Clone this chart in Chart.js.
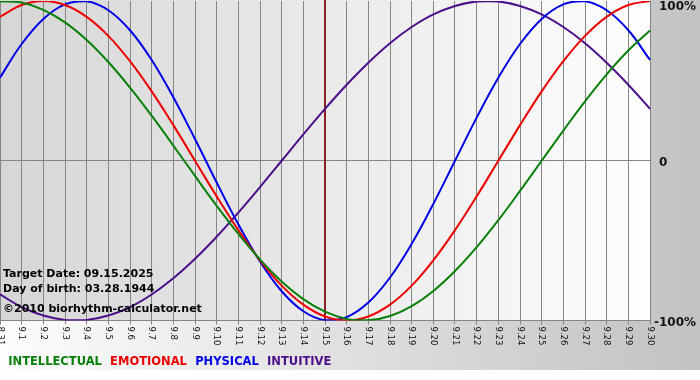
<!DOCTYPE html>
<html lang="en">
<head>
<meta charset="UTF-8">
<title>Biorhythm</title>
<style>
  body { margin: 0; background: #fff; }
  #wrap { width: 700px; height: 380px; }
</style>
</head>
<body>
<div id="wrap">
  <canvas id="myChart" width="700" height="380"></canvas>
</div>

<script src="https://cdn.jsdelivr.net/npm/chart.js"></script>
<script>
// days shown on the x axis
const days = ['8.31', '9.1', '9.2', '9.3', '9.4', '9.5', '9.6', '9.7', '9.8', '9.9', '9.10',
  '9.11', '9.12', '9.13', '9.14', '9.15', '9.16', '9.17', '9.18', '9.19', '9.20',
  '9.21', '9.22', '9.23', '9.24', '9.25', '9.26', '9.27', '9.28', '9.29', '9.30'];

// cycle values (-1 .. 1)
const intellectual = [0.999, 0.990, 0.945, 0.866, 0.756, 0.618, 0.458, 0.282, 0.095, -0.095, -0.282,
  -0.458, -0.618, -0.756, -0.866, -0.945, -0.990, -0.999, -0.972, -0.910, -0.815,
  -0.690, -0.541, -0.372, -0.189, 0.000, 0.189, 0.372, 0.541, 0.690, 0.815];
const emotional = [0.901, 0.975, 1.000, 0.975, 0.901, 0.782, 0.623, 0.434, 0.223, 0.000, -0.223,
  -0.434, -0.623, -0.782, -0.901, -0.975, -1.000, -0.975, -0.901, -0.782, -0.623,
  -0.434, -0.223, 0.000, 0.223, 0.434, 0.623, 0.782, 0.901, 0.975, 1.000];
const physical = [0.520, 0.731, 0.888, 0.979, 0.998, 0.942, 0.817, 0.631, 0.398, 0.136, -0.136,
  -0.398, -0.631, -0.817, -0.942, -0.998, -0.979, -0.888, -0.731, -0.520, -0.270,
  0.000, 0.270, 0.520, 0.731, 0.888, 0.979, 0.998, 0.942, 0.817, 0.631];
const intuitive = [-0.837, -0.916, -0.969, -0.997, -0.997, -0.969, -0.916, -0.837, -0.736, -0.614, -0.476,
  -0.325, -0.165, 0.000, 0.165, 0.325, 0.476, 0.614, 0.736, 0.837, 0.916,
  0.969, 0.997, 0.997, 0.969, 0.916, 0.837, 0.736, 0.614, 0.476, 0.325];

const yTicks = [1, 0, -1];
const yTickLabels = ['100%', '0', '-100%'];
const targetDay = '9.15';
const infoLines = ['Target Date: 09.15.2025', 'Day of birth: 03.28.1944', '\u00a92010 biorhythm-calculator.net'];

Chart.defaults.font.family = 'DejaVu Sans';

// backgrounds, target line, axis labels and info text
const decor = {
  id: 'decor',
  beforeDraw(chart) {
    const ctx = chart.ctx, a = chart.chartArea;
    ctx.save();
    ctx.fillStyle = '#fff';
    ctx.fillRect(0, 0, chart.width, chart.height);
    let g = ctx.createLinearGradient(0, 0, chart.width, 0);
    g.addColorStop(0, '#fdfdfd');
    g.addColorStop(1, '#c2c2c2');
    ctx.fillStyle = g;
    ctx.fillRect(0, 0, chart.width, 370);
    g = ctx.createLinearGradient(a.left, 0, a.right, 0);
    g.addColorStop(0, '#d6d6d6');
    g.addColorStop(1, '#fefefe');
    ctx.fillStyle = g;
    ctx.fillRect(a.left, a.top - 1, a.right - a.left, a.bottom - a.top + 1);
    ctx.restore();
  },
  beforeDatasetsDraw(chart) {
    const ctx = chart.ctx, a = chart.chartArea;
    const x = chart.scales.x.getPixelForTick(days.indexOf(targetDay));
    ctx.save();
    ctx.strokeStyle = '#8a1f24';
    ctx.lineWidth = 2;
    ctx.beginPath();
    ctx.moveTo(x, 0);
    ctx.lineTo(x, a.bottom);
    ctx.stroke();
    ctx.restore();
  },
  afterDraw(chart) {
    const ctx = chart.ctx, a = chart.chartArea;
    const xs = chart.scales.x, ys = chart.scales.y;
    ctx.save();
    // x labels, rotated clockwise
    ctx.fillStyle = '#111';
    ctx.font = '8.5px "DejaVu Sans"';
    ctx.textAlign = 'left';
    ctx.textBaseline = 'middle';
    days.forEach((d, i) => {
      ctx.save();
      ctx.translate(xs.getPixelForTick(i), a.bottom + 6);
      ctx.rotate(Math.PI / 2);
      ctx.fillText(d, 0, 0);
      ctx.restore();
    });
    // y labels on the right
    ctx.fillStyle = '#111';
    ctx.font = 'bold 12px "DejaVu Sans"';
    const minus = ctx.measureText('-').width;
    yTicks.forEach((v, i) => {
      const t = yTickLabels[i];
      const y = Math.max(ys.getPixelForValue(v) + 2, 7);
      ctx.fillText(t, a.right + 9 - (t[0] === '-' ? minus : 0), y);
    });
    // info text
    ctx.fillStyle = '#000';
    ctx.font = 'bold 11px "DejaVu Sans"';
    ctx.textBaseline = 'alphabetic';
    const offs = [44, 29, 9];
    infoLines.forEach((t, i) => ctx.fillText(t, 3, a.bottom - offs[i]));
    ctx.restore();
  }
};

const colors = ['#08800a', '#ee0000', '#0000e6', '#4b0f8c'];
const names = ['INTELLECTUAL', 'EMOTIONAL', 'PHYSICAL', 'INTUITIVE'];
const series = [intellectual, emotional, physical, intuitive];

new Chart(document.getElementById('myChart'), {
  type: 'line',
  data: {
    labels: days,
    datasets: series.map((s, i) => ({
      label: names[i],
      data: s,
      borderColor: colors[i],
      borderWidth: 2,
      pointRadius: 0,
      tension: 0.4,
      fill: false
    }))
  },
  options: {
    responsive: false,
    animation: false,
    layout: { padding: { top: 1, left: 0, right: 0, bottom: 1.75 } },
    plugins: {
      tooltip: { enabled: false },
      legend: {
        position: 'bottom',
        align: 'start',
        labels: {
          boxWidth: 0,
          padding: 2.5,
          font: { size: 11.5, weight: 'bold' },
          generateLabels(chart) {
            return chart.data.datasets.map((ds, i) => ({
              text: ds.label,
              fontColor: ds.borderColor,
              fillStyle: 'transparent',
              strokeStyle: 'transparent',
              lineWidth: 0,
              hidden: false,
              datasetIndex: i
            }));
          }
        }
      }
    },
    scales: {
      x: {
        grid: { color: '#858585', lineWidth: 1, drawTicks: true, tickLength: 4 },
        border: { color: '#858585' },
        ticks: { display: false },
        afterFit(scale) { scale.height = 33.75; }
      },
      y: {
        position: 'right',
        min: -1,
        max: 1,
        ticks: { display: false, stepSize: 1 },
        grid: {
          drawTicks: false,
          color: c => (c.tick.value === 1 ? 'transparent' : '#858585')
        },
        border: { display: false },
        afterFit(scale) { scale.width = 50; }
      }
    }
  },
  plugins: [decor]
});
</script>
</body>
</html>
